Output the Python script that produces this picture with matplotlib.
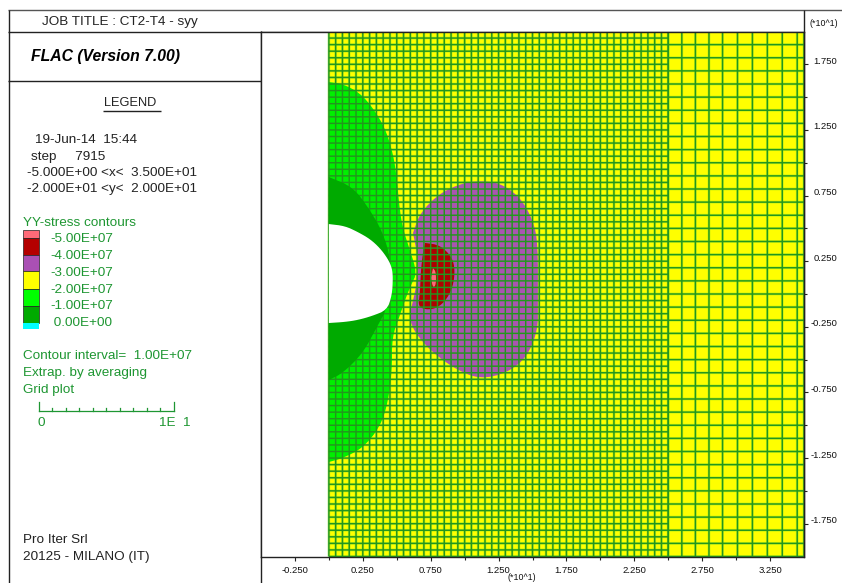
import numpy as np
import matplotlib
matplotlib.use("Agg")
import matplotlib.pyplot as plt
from matplotlib.patches import Polygon, Rectangle
from matplotlib.transforms import ScaledTranslation

plt.rcParams['font.family'] = ['Liberation Sans', 'DejaVu Sans']

W, H = 842, 583

# ---- model outlines (x, y in model units) ----
green_x = [0.0, 1.04, 2.29, 3.25, 4.13, 4.65, 4.94, 5.24, 5.53, 5.97, 6.49, 6.05, 5.61, 5.24, 4.65, 4.65, 4.35, 3.76, 2.51, 1.04, 0.0]
green_y = [16.15, 16.0, 15.31, 14.17, 12.65, 10.97, 9.45, 6.17, 4.72, 3.35, 1.6, 0.69, -0.46, -1.6, -3.28, -5.79, -8.3, -10.13, -11.73, -12.5, -12.8]
dark_x = [0.0, 1.78, 3.03, 3.99, 4.57, 4.35, 3.54, 2.51, 1.04, 0.0]
dark_y = [8.91, 8.15, 6.4, 4.65, 2.59, -0.99, -2.51, -4.5, -6.02, -6.55]
purple_x = [6.20, 6.71, 8.18, 9.88, 11.13, 12.6, 14.08, 15.03, 15.40, 15.40, 15.40, 14.6, 13.12, 11.13, 9.44, 7.67, 6.34, 5.90, 6.34, 6.56, 6.49]
purple_y = [4.65, 6.17, 7.70, 8.46, 8.61, 8.46, 7.39, 5.64, 3.89, -0.69, -2.74, -4.8, -6.02, -6.48, -5.79, -4.5, -2.97, -1.75, 0.08, 1.6, 3.12]
red_x = [7.08, 8.18, 9.07, 9.29, 9.14, 8.55, 7.67, 6.56, 6.71, 6.78, 6.93]
red_y = [3.89, 3.73, 2.82, 1.83, 0.53, -0.61, -1.22, -1.07, 0.08, 1.83, 3.12]
pink_x = [7.67, 7.89, 7.89, 7.67, 7.52]
pink_y = [1.98, 1.68, 0.69, 0.46, 1.22]
hole_x = [0.0, 1.19, 2.14, 3.03, 3.76, 4.35, 4.65, 4.72, 4.65, 4.28, 3.17, 2.14, 1.19, 0.0]
hole_y = [5.33, 5.18, 4.72, 4.19, 3.50, 2.67, 1.98, 1.22, -0.08, -1.22, -1.68, -1.98, -2.13, -2.21]

# ---- mesh ----
coarse_x = [25, 26, 27, 28, 29, 30.1, 31.2, 32.3, 33.4, 34.5, 35]
fine_step = 0.5
coarse_step = 1.0

# ---- axis ----
major_ticks = [-2.5, 2.5, 7.5, 12.5, 17.5, 22.5, 27.5, 32.5]
minor_ticks = [0, 5, 10, 15, 20, 25, 30]
x_labels = ['-0.250', '0.250', '0.750', '1.250', '1.750', '2.250', '2.750', '3.250']
y_major = [-17.5, -12.5, -7.5, -2.5, 2.5, 7.5, 12.5, 17.5]
y_minor = [-15, -10, -5, 0, 5, 10, 15]
y_labels = ['-1.750', '-1.250', '-0.750', '-0.250', '0.250', '0.750', '1.250', '1.750']

# ---- legend ----
levels = ['-5.00E+07', '-4.00E+07', '-3.00E+07', '-2.00E+07', '-1.00E+07', ' 0.00E+00']
band_colors = ['#ff6a78', '#b40000', '#aa50b4', '#ffff00', '#00ff00', '#00aa00', '#00ffff']
info_lines = ['19-Jun-14  15:44', 'step     7915', '-5.000E+00 <x<  3.500E+01', '-2.000E+01 <y<  2.000E+01']

YELLOW, GREEN, DARK, PURPLE, RED, PINK = '#ffff00', '#00f000', '#00aa00', '#aa55b0', '#b00000', '#ff6a78'
MESH = '#23961e'
HALO = '#86e01e'
TXT = '#1e9632'
INK = '#222222'
BODY = 9.7


def chaikin(x, y, n=2):
    """Round an outline's corners, keeping its end points."""
    p = np.column_stack([x, y])
    for _ in range(n):
        q = [p[0]]
        for a, b in zip(p[:-1], p[1:]):
            q += [0.75 * a + 0.25 * b, 0.25 * a + 0.75 * b]
        q.append(p[-1])
        p = np.array(q)
    return p


fig = plt.figure(figsize=(W / 100, H / 100), dpi=100, facecolor='white')

bg = fig.add_axes([0, 0, 1, 1])
bg.set_xlim(0, W)
bg.set_ylim(H, 0)
bg.axis('off')

ax = fig.add_axes([261 / W, 1 - 556.5 / H, (804 - 261) / W, (556.5 - 31.5) / H])
ax.set_xlim(-5, 35)
ax.set_ylim(-20, 20)
ax.set_facecolor('white')

ax.add_patch(Rectangle((0, -20), 35, 40, fc=YELLOW, ec='none', zorder=1))
# the halo only softens the mesh over yellow, so the other bands sit above it;
# the mesh core runs over them, except dark green where it has the same colour
for xs, ys, c, z in [(green_x, green_y, GREEN, 3), (purple_x, purple_y, PURPLE, 3.1),
                     (red_x, red_y, RED, 3.2), (pink_x, pink_y, PINK, 3.3),
                     (dark_x, dark_y, DARK, 6)]:
    ax.add_patch(Polygon(chaikin(xs, ys), closed=True, fc=c, ec='none', zorder=z))

vert_fine = np.arange(0, 25 + fine_step / 2, fine_step)
hor_fine = np.arange(-20, 20 + fine_step / 2, fine_step)
hor_coarse = np.arange(-20, 20 + coarse_step / 2, coarse_step)
for color, lw, alpha, z in [(HALO, 2.0, 0.45, 2), (MESH, 1.05, 1.0, 5)]:
    cols = [ax.vlines(vert_fine, -20, 20, color=color, lw=lw, alpha=alpha, zorder=z),
            ax.hlines(hor_fine, 0, 25, color=color, lw=lw, alpha=alpha, zorder=z),
            ax.vlines(coarse_x, -20, 20, color=color, lw=lw, alpha=alpha, zorder=z),
            ax.hlines(hor_coarse, 25, 35, color=color, lw=lw, alpha=alpha, zorder=z)]
    for c in cols:
        c.set_snap(False)
ax.add_patch(Polygon(chaikin(hole_x, hole_y), closed=True, fc='white', ec='none', zorder=7))

for s in ax.spines.values():
    s.set_color(INK)
    s.set_linewidth(1.0)
    s.set_zorder(10)
ax.yaxis.tick_right()
ax.set_xticks(major_ticks)
ax.set_xticklabels(x_labels, fontsize=6.8, color='#111111')
ax.set_xticks(minor_ticks, minor=True)
ax.set_yticks(y_major)
ax.set_yticklabels(y_labels, fontsize=6.8, color='#111111', ha='right', va='center')
ax.set_yticks(y_minor, minor=True)
ax.tick_params(axis='x', which='major', length=3, width=0.8, pad=4, color=INK)
ax.tick_params(axis='x', which='minor', length=2, width=0.8, color=INK)
ax.tick_params(axis='y', which='major', length=3, width=0.8, pad=21, color=INK)
ax.tick_params(axis='y', which='minor', length=2, width=0.8, color=INK)
shift = ScaledTranslation(0, 3 / 72 * 0.72, fig.dpi_scale_trans)
for lab in ax.get_yticklabels():
    lab.set_transform(lab.get_transform() + shift)


def hline(y, x0, x1, c=INK, lw=1.0):
    bg.plot([x0, x1], [y, y], color=c, lw=lw, solid_capstyle='butt')


def vline(x, y0, y1, c=INK, lw=1.0):
    bg.plot([x, x], [y0, y1], color=c, lw=lw, solid_capstyle='butt')


hline(10, 8, 842, c='#555555')
vline(8.5, 10, 583)
hline(31.5, 8, 804)
vline(261, 31, 583)
vline(804, 10, 557)
hline(80.5, 8, 261)


def t(x, y, s, size=BODY, color='#222222', **kw):
    bg.text(x, y + 1, s, fontsize=size, color=color, va='center', ha='left', **kw)


t(42, 21.5, 'JOB TITLE : CT2-T4 - syy')
t(31, 55.5, 'FLAC (Version 7.00)', size=11.3, color='black', fontweight='bold', fontstyle='italic')
t(104, 102, 'LEGEND', size=9.2)
hline(111, 103, 161, c='#222222')
for i, s in enumerate(info_lines):
    t([35, 31, 27, 27][i], [139, 156, 172, 188][i], s)

t(23, 222, 'YY-stress contours', color=TXT)
sw_top = [230, 238, 255, 271, 289, 306, 323, 329]
for c, a, b in zip(band_colors, sw_top[:-1], sw_top[1:]):
    bg.add_patch(Rectangle((23, a), 16, b - a, fc=c, ec='#222222' if c != band_colors[-1] else 'none', lw=0.5))
for lev, yy in zip(levels, [238, 255, 272, 289, 305, 322]):
    t(50, yy, lev, color=TXT)
t(23, 355, 'Contour interval=  1.00E+07', color=TXT)
t(23, 372, 'Extrap. by averaging', color=TXT)
t(23, 389, 'Grid plot', color=TXT)

bg.plot([38.5, 174], [411, 411], color=TXT, lw=0.9)
for i, xb in enumerate(np.linspace(38.5, 174, 11)):
    bg.plot([xb, xb], [411, 402 if i in (0, 10) else 408], color=TXT, lw=0.9)
t(37, 422, '0', color=TXT)
t(159, 422, '1E  1', color=TXT)

t(23, 539, 'Pro Iter Srl')
t(23, 556, '20125 - MILANO (IT)')
t(810, 23, '(*10^1)', size=6.4, color='#111111')
t(507, 577, '(*10^1)', size=6.4, color='#111111')

fig.savefig('out.png', dpi=100)
